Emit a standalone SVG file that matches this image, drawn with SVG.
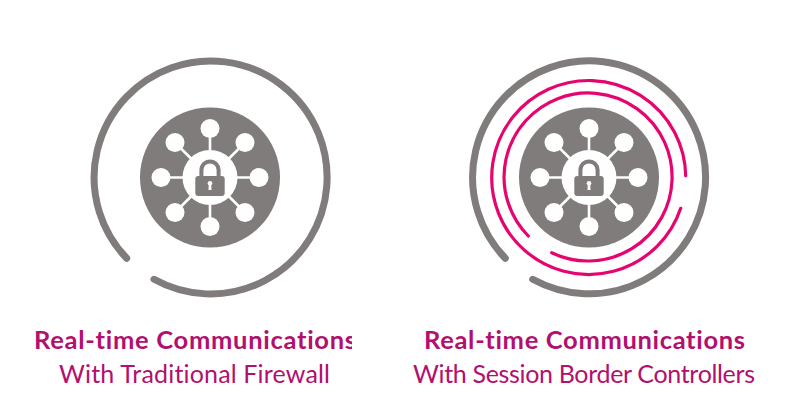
<svg xmlns="http://www.w3.org/2000/svg" width="800" height="409" viewBox="0 0 800 409">
<style>
.ring{fill:none;stroke:#807c7b;stroke-width:7;stroke-linecap:round}
.pink{fill:none;stroke:#e6056f;stroke-width:3.2;stroke-linecap:round}
.disc{fill:#807c7b}
.w{fill:#fff}
.sp{stroke:#fff;stroke-width:2.6;fill:none}
.sh{fill:none;stroke:#807c7b;stroke-width:4}
.lk{fill:#807c7b}
text{font-family:"Lato","Open Sans",sans-serif;fill:#b20f6e;font-variant-ligatures:none}
.t{font-size:25.5px;font-weight:700}
.s{font-size:25px}
</style>
<defs>
<clipPath id="cl"><rect x="0" y="320" width="352" height="40"/></clipPath>
<g id="hub">
<circle class="disc" r="70"/>
<path class="sp" d="M0-49V49M-49 0H49M-35-35L35 35M-35 35L35-35"/>
<circle class="w" r="27.5"/>
<g class="w">
<circle cy="-49" r="9.5"/><circle cy="49" r="9.5"/><circle cx="-49" r="9.5"/><circle cx="49" r="9.5"/>
<circle cx="-35" cy="-35" r="9.5"/><circle cx="35" cy="-35" r="9.5"/><circle cx="-35" cy="35" r="9.5"/><circle cx="35" cy="35" r="9.5"/>
</g>
<path class="sh" d="M-8.6-1V-7.5a8.6 8.6 0 0 1 17.2 0V-1"/>
<rect class="lk" x="-14.7" y="-1.5" width="29.4" height="20" rx="3"/>
<circle class="w" cy="5.8" r="2.3"/>
<path class="w" d="M-1.2 6H1.2L1.5 12.5H-1.5Z"/>
</g>
</defs>
<g id="left-icon">
<use href="#hub" x="210" y="177.5"/>
<path id="left-ring" class="ring" d="M126.7 258.3A116.5 116.5 0 1 1 154 279.3"/>
</g>
<g id="right-icon">
<use href="#hub" x="589" y="177.5"/>
<path id="right-ring" class="ring" d="M505.3 258.3A116.5 116.5 0 1 1 532.7 279.3"/>
<path id="pink-outer" class="pink" d="M685.7 175.7A97 97 0 1 0 680.7 208.3"/>
<path id="pink-inner" class="pink" d="M528.3 236A84 84 0 1 1 551.7 252.7"/>
</g>
<g id="left-label">
<text class="t" x="34" y="349" clip-path="url(#cl)" textLength="322" lengthAdjust="spacing">Real-time Communications</text>
<text class="s" x="59" y="383" textLength="271" lengthAdjust="spacing">With Traditional Firewall</text>
</g>
<g id="right-label">
<text class="t" x="424" y="349" textLength="321" lengthAdjust="spacing">Real-time Communications</text>
<text class="s" x="413" y="383" textLength="342" lengthAdjust="spacing">With Session Border Controllers</text>
</g>
</svg>
